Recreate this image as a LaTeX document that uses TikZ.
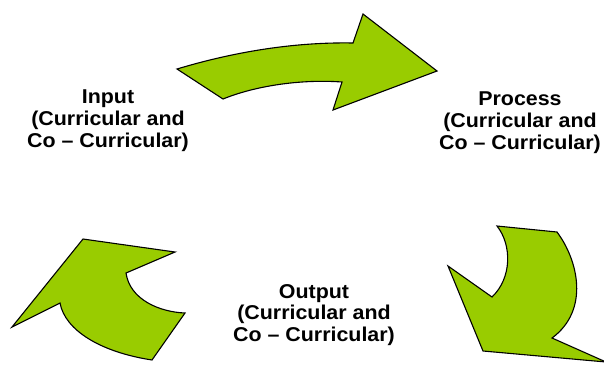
\documentclass[tikz,border=0pt]{standalone}
\usepackage{fontspec}
\setmainfont[FakeStretch=1.07]{Liberation Sans}
\usepackage{xcolor}
\usepackage{tikz}
\usetikzlibrary{positioning}

\definecolor{arrowgreen}{HTML}{99CC00}
\tikzset{
  bigarrow/.style={draw=black, line width=1.1pt, fill=arrowgreen, line join=miter},
  stagelabel/.style={align=center, anchor=north, inner sep=0pt,
    font=\fontsize{20}{21.8}\selectfont\bfseries}
}

\begin{document}
\begin{tikzpicture}[x=1pt,y=-1pt]
\useasboundingbox (0,0) rectangle (604,365);
\clip (0,0) rectangle (604,365);

% Top arrow
\draw[bigarrow] (177,69) .. controls (240,50) and (300,42) .. (353,43)
    -- (363,14) -- (437,71) -- (333,110) -- (342,82)
    .. controls (300,79) and (255,86) .. (223,99) -- cycle;

% Bottom right arrow
\draw[bigarrow] (497,226) -- (557,232)
    .. controls (578,260) and (590,310) .. (552,338)
    -- (606,362) -- (483,351) -- (448,266) -- (492,297)
    .. controls (512,278) and (512,245) .. (497,226) -- cycle;

% Bottom left arrow
\draw[bigarrow] (83,239) -- (175,252) -- (126,273)
    .. controls (130,300) and (160,312) .. (185,313)
    -- (152,360) .. controls (100,352) and (65,330) .. (60,303)
    -- (12,327) -- cycle;

% Labels
\node[stagelabel] (input) at (108,90) {Input\\(Curricular and\\Co -- Curricular)};
\node[stagelabel] (process) at (520,92) {Process\\(Curricular and\\Co -- Curricular)};
\node[stagelabel] (output) at (314,284) {Output\\(Curricular and\\Co -- Curricular)};
\end{tikzpicture}
\end{document}
